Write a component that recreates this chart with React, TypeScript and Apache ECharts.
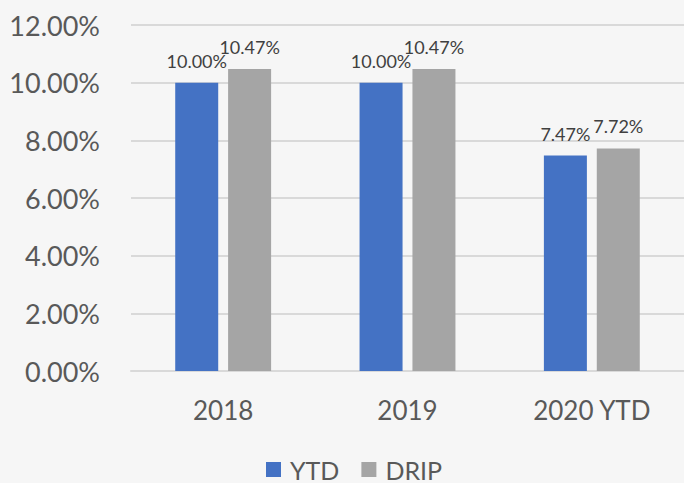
import React, { useEffect, useRef } from "react";
import * as echarts from "echarts";

const categories = ["2018", "2019", "2020 YTD"];
const ytdValues = [10.0, 10.0, 7.47];
const dripValues = [10.47, 10.47, 7.72];
const seriesNames = ["YTD", "DRIP"];

const FONT = "Lato";

export default function App() {
  const ref = useRef<HTMLDivElement>(null);
  useEffect(() => {
    if (!ref.current) return;
    const chart = echarts.init(ref.current, null, { renderer: "svg" });
    const labelStyle = {
      show: true,
      position: "top" as const,
      distance: 13,
      color: "#404040",
      fontFamily: FONT,
      fontSize: 18,
      formatter: (p: any) => p.value.toFixed(2) + "%",
    };
    chart.setOption({
      animation: false,
      backgroundColor: "#f6f6f6",
      textStyle: { fontFamily: FONT },
      grid: { left: 131, right: 0, top: 25, bottom: 112, containLabel: false },
      legend: {
        data: seriesNames,
        left: 261,
        top: 452,
        icon: "rect",
        itemWidth: 15,
        itemHeight: 15,
        itemGap: 22,
        textStyle: {
          fontFamily: FONT,
          fontSize: 25,
          color: "#595959",
          padding: [0, 0, 0, 4],
        },
      },
      xAxis: {
        type: "category",
        data: categories,
        axisLine: { lineStyle: { color: "#d9d9d9", width: 2 } },
        axisTick: { show: false },
        axisLabel: { color: "#595959", fontSize: 26, fontFamily: FONT, margin: 26 },
      },
      yAxis: {
        type: "value",
        min: 0,
        max: 12,
        interval: 2,
        axisLine: { show: false },
        axisTick: { show: false },
        splitLine: { lineStyle: { color: "#d9d9d9", width: 2 } },
        axisLabel: {
          color: "#595959",
          fontSize: 27,
          fontFamily: FONT,
          margin: 31,
          formatter: (v: number) => v.toFixed(2) + "%",
        },
      },
      series: [
        {
          name: seriesNames[0],
          type: "bar",
          data: ytdValues,
          barWidth: 43,
          barGap: "23%",
          itemStyle: { color: "#4472c4" },
          label: labelStyle,
        },
        {
          name: seriesNames[1],
          type: "bar",
          data: dripValues,
          barWidth: 43,
          barGap: "23%",
          itemStyle: { color: "#a5a5a5" },
          label: labelStyle,
        },
      ],
    });
    return () => chart.dispose();
  }, []);
  return (
    <div
      ref={ref}
      style={{ position: "fixed", left: 0, top: 0, width: 684, height: 483 }}
    />
  );
}
